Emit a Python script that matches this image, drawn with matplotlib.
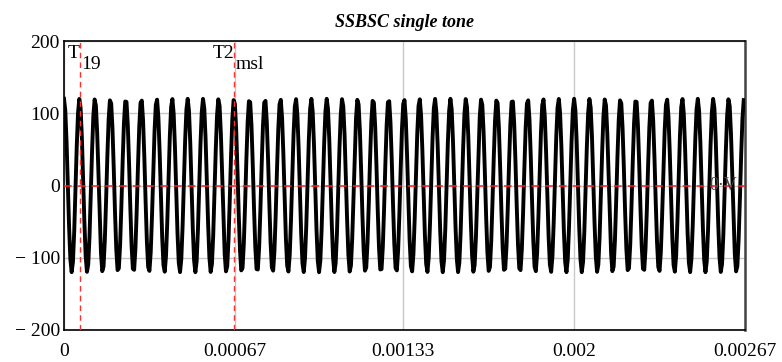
import numpy as np
import matplotlib.pyplot as plt

# signal: upper sideband of a single tone (fc = 15 kHz, fm = 1.5 kHz)
amplitude = 120.0
f_usb = 16500.0
t_end = 4 / 1500
dt = 5e-6
t = np.arange(0, t_end + dt / 2, dt)
v = amplitude * np.cos(2 * np.pi * f_usb * t)

markers_x = [6.1e-5, 1 / 1500]
marker_names = [("T", "19"), ("T2", "msl")]
xticks = [0, 0.00067, 0.00133, 0.002, 0.00267]
xtick_labels = ["0", "0.00067", "0.00133", "0.002", "0.00267"]
yticks = [-200, -100, 0, 100, 200]
ytick_labels = ["\u2212 200", "\u2212 100", "0", "100", "200"]

plt.rcParams.update({
    "font.family": "Liberation Serif",
    "font.size": 14,
})

fig = plt.figure(figsize=(7.82, 3.62), dpi=100)
ax = fig.add_axes([64 / 782, 32 / 362, 681 / 782, 289 / 362])

ax.set_xlim(0, t_end)
ax.set_ylim(-200, 200)
ax.set_xticks(xticks, xtick_labels)
ax.set_yticks(yticks, ytick_labels)
ax.tick_params(axis="x", length=0, pad=9)
ax.tick_params(axis="y", length=0, pad=3)
ax.grid(True, color="#c8c8c8", linewidth=1.0)
ax.set_axisbelow(True)

for side in ["left", "top", "bottom"]:
    ax.spines[side].set_color("black")
    ax.spines[side].set_linewidth(1.2)
ax.spines["right"].set_color("#444444")
ax.spines["right"].set_linewidth(1.8)

ax.plot(t, v, color="black", linewidth=2.8, zorder=3)

ax.axhline(0, color="#ff2020", linestyle=(0, (5, 4)), linewidth=1.1, zorder=4)
for xm, (name, sub) in zip(markers_x, marker_names):
    ax.axvline(xm, color="#ff3030", linestyle=(0, (4, 3)), linewidth=1.0, zorder=4)
    ax.text(xm, 194, name, ha="right", va="top", fontsize=14, zorder=5)
    ax.annotate(sub, xy=(xm, 194), xytext=(1, -8), textcoords="offset points",
                ha="left", va="top", fontsize=14, zorder=5)

ax.text(t_end * 0.99, 0, "0\u00b7V", ha="right", va="center", fontsize=13,
        color="#444444", zorder=6)

ax.set_title("SSBSC single tone", fontsize=13, fontweight="bold", style="italic", pad=10)

fig.savefig("out.png", dpi=100)
